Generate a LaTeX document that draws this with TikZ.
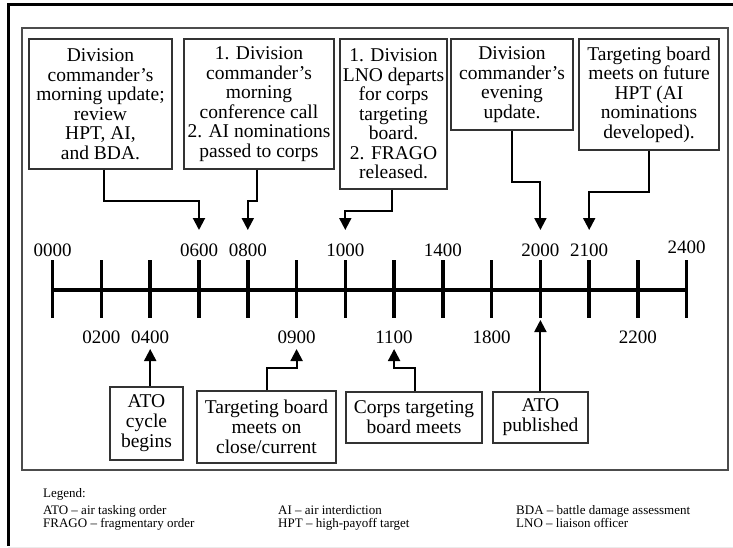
\documentclass[tikz,border=0pt]{standalone}
\usepackage{fontspec}
\setmainfont{Liberation Serif}
\usetikzlibrary{arrows.meta,calc}
\tikzset{
  evbox/.style={draw=black!80, line width=1.1pt, inner sep=0pt, align=center,
    font=\fontsize{19.5}{19.5}\selectfont},
  lowbox/.style={draw=black!80, line width=1.1pt, inner sep=0pt, align=center,
    font=\fontsize{19.5}{20}\selectfont},
  conn/.style={line width=2pt, -{Triangle[width=12pt,length=12pt]}},
  tlabel/.style={font=\fontsize{19}{20}\selectfont, inner sep=0pt},
  leg/.style={font=\fontsize{13}{13}\selectfont, inner sep=0pt, anchor=base west},
}
\begin{document}
\begin{tikzpicture}[x=1pt,y=-1pt]
\useasboundingbox (0,0) rectangle (733,548);
% frames
\draw[line width=3pt] (733,5) -- (8,5) -- (8,546);
\draw[black!8, line width=0.8pt] (8,547) -- (733,547);
\draw[black!70, line width=1.3pt] (22,28) rectangle (728,470);
% timeline
\foreach \i in {0,...,13} {
  \coordinate (t\i) at ({52.7+\i*48.77},290);
  \coordinate (u\i) at ({52.7+\i*48.77},260);
  \coordinate (d\i) at ({52.7+\i*48.77},318);
  \draw[line width=3.5pt] (u\i) -- (d\i);
}
\draw[line width=3.5pt] (t0) -- (t13);
% labels above
\foreach \i/\t in {0/0000,3/0600,4/0800,6/1000,8/1400,10/2000,11/2100} {
  \node[tlabel] (la\i) at ({52.7+\i*48.77},250) {\t};
}
\node[tlabel] (la13) at ({52.7+13*48.77},247) {2400};
\foreach \i/\t in {1/0200,2/0400,5/0900,7/1100,9/1800,12/2200} {
  \node[tlabel] (lb\i) at ({52.7+\i*48.77},337) {\t};
}
% arrow tips
\coordinate (a3) at (199.0,230);
\coordinate (a4) at (247.8,230);
\coordinate (a6) at (345.3,230);
\coordinate (a10) at (540.4,230);
\coordinate (a11) at (589.2,230);
\coordinate (a2) at (150.2,349);
\coordinate (a5) at (296.6,349);
\coordinate (a7) at (394.1,349);
\coordinate (a10b) at (540.4,320);
% top boxes
\node[evbox, minimum width=143, minimum height=130] (b1) at (100.5,104)
  {Division\\commander's\\morning update;\\review\\HPT, AI,\\and BDA.};
\node[evbox, minimum width=150, minimum height=130] (b2) at (259,104)
  {1. Division\\commander's\\morning\\conference call\\2. AI nominations\\passed to corps};
\node[evbox, minimum width=107, minimum height=150] (b3) at (393.5,114)
  {1. Division\\LNO departs\\for corps\\targeting\\board.\\2. FRAGO\\released.};
\node[evbox, minimum width=122, minimum height=91] (b4) at (512,84.5)
  {Division\\commander's\\evening\\update.};
\node[evbox, minimum width=140, minimum height=111] (b5) at (649,94.5)
  {Targeting board\\meets on future\\HPT (AI\\nominations\\developed).};
% bottom boxes
\node[lowbox, minimum width=73, minimum height=73] (bA) at (146.5,423.5)
  {ATO\\cycle\\begins};
\node[lowbox, minimum width=139, minimum height=72] (bB) at (266.5,427)
  {Targeting board\\meets on\\close/current};
\node[lowbox, minimum width=136, minimum height=51] (bC) at (414,417.5)
  {Corps targeting\\board meets};
\node[lowbox, minimum width=95, minimum height=51] (bD) at (540.5,417.5)
  {ATO\\published};
% connectors
\draw[conn] ([xshift=3.5pt]b1.south) -- ++(0,31) -| (a3);
\draw[conn] ([xshift=-2pt]b2.south) -- ++(0,31) -| (a4);
\draw[conn] ([xshift=-1.5pt]b3.south) -- ++(0,21) -| (a6);
\draw[conn] (b4.south) -- ++(0,51) -| (a10);
\draw[conn] (b5.south) -- ++(0,41) -| (a11);
\draw[conn] (a2 |- bA.north) -- (a2);
\draw[conn] ([xshift=0.5pt]bB.north) -- ++(0,-22) -| (a5);
\draw[conn] ([xshift=1pt]bC.north) -- ++(0,-23) -| (a7);
\draw[conn] (a10b |- bD.north) -- (a10b);
% legend
\node[leg] (lg) at (43,497) {Legend:};
\node[leg] (l1) at (43,514) {ATO – air tasking order};
\node[leg] (l2) at (43,527.5) {FRAGO – fragmentary order};
\node[leg] (l3) at (278,514) {AI – air interdiction};
\node[leg] (l4) at (278,527.5) {HPT – high-payoff target};
\node[leg] (l5) at (516,514) {BDA – battle damage assessment};
\node[leg] (l6) at (516,527.5) {LNO – liaison officer};
\end{tikzpicture}
\end{document}
